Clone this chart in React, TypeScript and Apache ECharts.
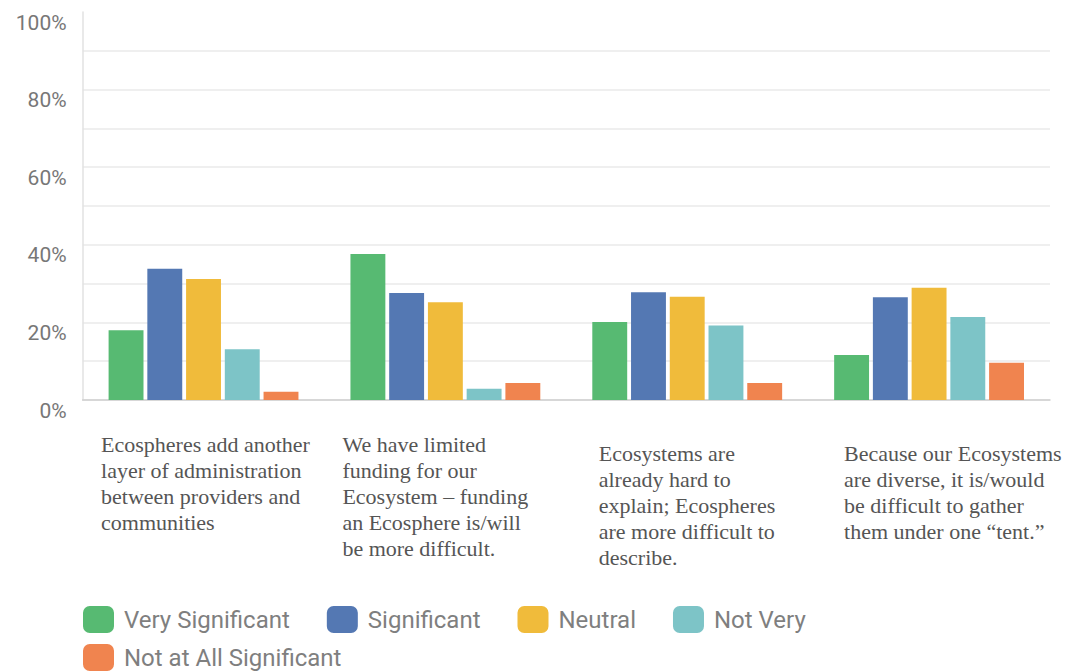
import React, { useEffect, useRef } from "react";
import * as echarts from "echarts";

const categories = [
  "Ecospheres add another\nlayer of administration\nbetween providers and\ncommunities",
  "We have limited\nfunding for our\nEcosystem – funding\nan Ecosphere is/will\nbe more difficult.",
  "Ecosystems are\nalready hard to\nexplain; Ecospheres\nare more difficult to\ndescribe.",
  "Because our Ecosystems\nare diverse, it is/would\nbe difficult to gather\nthem under one “tent.”",
];

const seriesNames = [
  "Very Significant",
  "Significant",
  "Neutral",
  "Not Very",
  "Not at All Significant",
];

const verySignificant = [18.0, 37.6, 20.1, 11.6];
const significant = [33.8, 27.6, 27.8, 26.5];
const neutral = [31.2, 25.2, 26.6, 28.9];
const notVery = [13.1, 2.9, 19.2, 21.4];
const notAtAllSignificant = [2.1, 4.4, 4.4, 9.6];

const seriesValues = [verySignificant, significant, neutral, notVery, notAtAllSignificant];
const colors = ["#57ba72", "#5478b3", "#f0bb3b", "#7dc4c7", "#f0844f"];

// layout helpers for the multi-line category labels
const labelBoxWidths = [205, 206, 177, 170];
const labelTopPad = [0, 0, 9, 9];

const serif = "'Liberation Serif', 'Times New Roman', serif";
const sans = "Roboto, 'Noto Sans', sans-serif";

export default function App() {
  const ref = useRef<HTMLDivElement>(null);

  useEffect(() => {
    if (!ref.current) return;
    const chart = echarts.init(ref.current, null, { renderer: "svg" });

    const rich: Record<string, any> = {};
    labelBoxWidths.forEach((w, i) => {
      rich["c" + i] = {
        width: w,
        align: "left",
        fontFamily: serif,
        fontSize: 22,
        lineHeight: 26,
        color: "#555555",
      };
    });

    const gridColor = "#eaeaea";

    const legendText = {
      fontFamily: sans,
      fontSize: 24,
      lineHeight: 24,
      color: "#7f7f7f",
      padding: [0, 0, 0, 5],
    };

    chart.setOption({
      animation: false,
      backgroundColor: "#ffffff",
      grid: {
        left: 82.6,
        right: 23,
        top: 12,
        bottom: 271,
        containLabel: false,
        outerBoundsMode: "none",
      },
      legend: [
        {
          data: seriesNames.slice(0, 4),
          left: 78,
          top: 601,
          orient: "horizontal",
          itemWidth: 31,
          itemHeight: 27,
          itemGap: 37,
          icon: "roundRect",
          textStyle: legendText,
        },
        {
          data: seriesNames.slice(4),
          left: 78,
          top: 639,
          orient: "horizontal",
          itemWidth: 31,
          itemHeight: 27,
          itemGap: 37,
          icon: "roundRect",
          textStyle: legendText,
        },
      ],
      xAxis: {
        type: "category",
        data: categories.map((c, i) => ({
          value: c,
          textStyle: { padding: [labelTopPad[i], 0, 0, 0] },
        })),
        axisLine: { show: true, lineStyle: { color: "#cfcfcf", width: 1.5 } },
        axisTick: { show: false },
        axisLabel: {
          interval: 0,
          margin: 31,
          color: "#555555",
          fontFamily: serif,
          fontSize: 22,
          lineHeight: 26,
          formatter: (value: string, index: number) =>
            value
              .split("\n")
              .map((line) => `{c${index}|${line}}`)
              .join("\n"),
          rich,
        },
        splitLine: { show: false },
      },
      yAxis: {
        type: "value",
        min: 0,
        max: 100,
        interval: 20,
        axisLine: { show: true, lineStyle: { color: "#e2e2e2", width: 1.5 } },
        axisTick: { show: false },
        axisLabel: {
          formatter: "{value}%",
          color: "#777777",
          fontFamily: sans,
          fontSize: 21,
          margin: 16,
          verticalAlign: "top",
        },
        splitLine: {
          show: true,
          lineStyle: {
            color: [gridColor, gridColor, gridColor, gridColor, gridColor, "rgba(0,0,0,0)"],
            width: 1.5,
          },
        },
        minorTick: { show: false, splitNumber: 2 },
        minorSplitLine: { show: true, lineStyle: { color: gridColor, width: 1.5 } },
      },
      series: seriesNames.map((name, i) => ({
        name,
        type: "bar",
        data: seriesValues[i],
        barGap: "11%",
        barCategoryGap: "21.5%",
        itemStyle: { color: colors[i] },
      })),
    });

    return () => chart.dispose();
  }, []);

  return (
    <div
      ref={ref}
      style={{ position: "fixed", left: 0, top: 0, width: 1073, height: 671 }}
    />
  );
}
